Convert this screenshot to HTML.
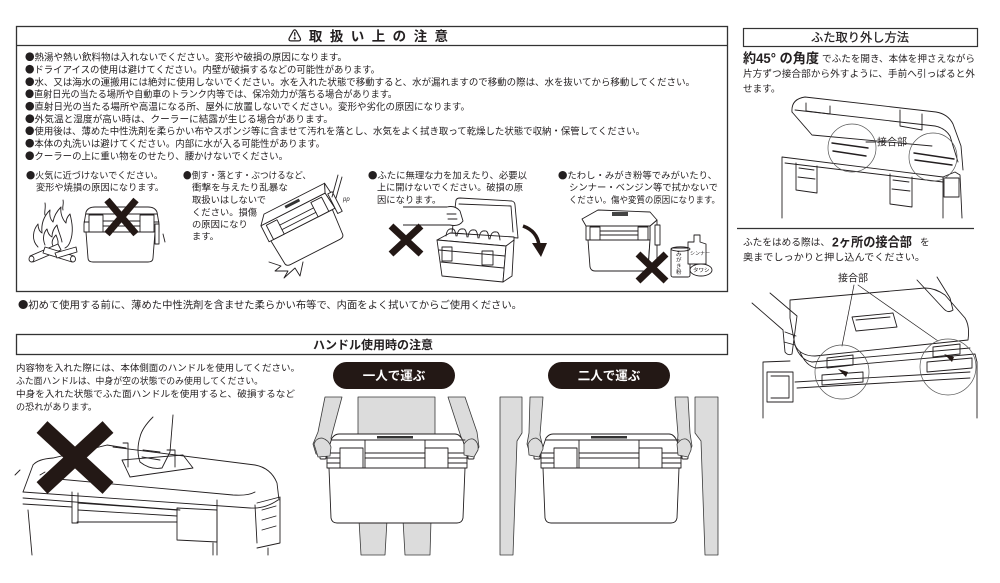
<!DOCTYPE html>
<html><head><meta charset="utf-8">
<style>
html,body{margin:0;padding:0;background:#fff;}
svg{display:block;}
text{font-family:"Liberation Sans","Noto Sans CJK JP",sans-serif;fill:#231f20;}
.b{font-family:"Noto Sans CJK JP",sans-serif;}
.t{font-size:9.6px;}
.s{font-size:9.3px;}
.ln{fill:none;stroke:#231f20;stroke-width:0.9;stroke-linejoin:round;stroke-linecap:round;}
.w{fill:#fff;stroke:#231f20;stroke-width:0.9;stroke-linejoin:round;}
.g{fill:#dcdcdc;stroke:#3a3a3a;stroke-width:0.8;stroke-linejoin:round;}
.x{stroke:#231815;stroke-linecap:butt;fill:none;}
</style></head><body>
<svg width="1000" height="583" viewBox="0 0 1000 583" xmlns="http://www.w3.org/2000/svg">
<rect width="1000" height="583" fill="#fff"/>

<!-- ===== MAIN CAUTION BOX ===== -->
<rect x="16.5" y="26.5" width="711" height="265" fill="none" stroke="#333" stroke-width="1.3"/>
<line x1="16" y1="45.5" x2="728" y2="45.5" stroke="#333" stroke-width="1.3"/>
<text x="288" y="41" font-size="13.5" font-weight="bold" textLength="160" lengthAdjust="spacing">⚠取扱い上の注意</text>

<text class="t" x="25" y="60.6" textLength="322" lengthAdjust="spacingAndGlyphs"><tspan class="b">●</tspan>熱湯や熱い飲料物は入れないでください。変形や破損の原因になります。</text>
<text class="t" x="25" y="73" textLength="355" lengthAdjust="spacingAndGlyphs"><tspan class="b">●</tspan>ドライアイスの使用は避けてください。内壁が破損するなどの可能性があります。</text>
<text class="t" x="25" y="85.3" textLength="670" lengthAdjust="spacingAndGlyphs"><tspan class="b">●</tspan>水、又は海水の運搬用には絶対に使用しないでください。水を入れた状態で移動すると、水が漏れますので移動の際は、水を抜いてから移動してください。</text>
<text class="t" x="25" y="97.7" textLength="372" lengthAdjust="spacingAndGlyphs"><tspan class="b">●</tspan>直射日光の当たる場所や自動車のトランク内等では、保冷効力が落ちる場合があります。</text>
<text class="t" x="25" y="110" textLength="445" lengthAdjust="spacingAndGlyphs"><tspan class="b">●</tspan>直射日光の当たる場所や高温になる所、屋外に放置しないでください。変形や劣化の原因になります。</text>
<text class="t" x="25" y="122.4" textLength="308" lengthAdjust="spacingAndGlyphs"><tspan class="b">●</tspan>外気温と湿度が高い時は、クーラーに結露が生じる場合があります。</text>
<text class="t" x="25" y="134.7" textLength="620" lengthAdjust="spacingAndGlyphs"><tspan class="b">●</tspan>使用後は、薄めた中性洗剤を柔らかい布やスポンジ等に含ませて汚れを落とし、水気をよく拭き取って乾燥した状態で収納・保管してください。</text>
<text class="t" x="25" y="147.1" textLength="300" lengthAdjust="spacingAndGlyphs"><tspan class="b">●</tspan>本体の丸洗いは避けてください。内部に水が入る可能性があります。</text>
<text class="t" x="25" y="159.4" textLength="263" lengthAdjust="spacingAndGlyphs"><tspan class="b">●</tspan>クーラーの上に重い物をのせたり、腰かけないでください。</text>

<!-- illustration captions -->
<text class="s" x="26" y="178.5" textLength="137" lengthAdjust="spacingAndGlyphs"><tspan class="b">●</tspan>火気に近づけないでください。</text>
<text class="s" x="36" y="190.5" textLength="128" lengthAdjust="spacingAndGlyphs">変形や焼損の原因になります。</text>

<text class="s" x="183" y="178.5" textLength="128" lengthAdjust="spacingAndGlyphs"><tspan class="b">●</tspan>倒す・落とす・ぶつけるなど、</text>
<text class="s" x="192" y="190.5" textLength="96" lengthAdjust="spacingAndGlyphs">衝撃を与えたり乱暴な</text>
<text class="s" x="192" y="203">取扱いはしないで</text>
<text class="s" x="192" y="215.5">ください。損傷</text>
<text class="s" x="192" y="227.5">の原因になり</text>
<text class="s" x="192" y="239.5">ます。</text>

<text class="s" x="368" y="178.5" textLength="159" lengthAdjust="spacingAndGlyphs"><tspan class="b">●</tspan>ふたに無理な力を加えたり、必要以</text>
<text class="s" x="377" y="190.5" textLength="146" lengthAdjust="spacingAndGlyphs">上に開けないでください。破損の原</text>
<text class="s" x="377" y="203">因になります。</text>

<text class="s" x="558" y="178.5" textLength="159" lengthAdjust="spacingAndGlyphs"><tspan class="b">●</tspan>たわし・みがき粉等でみがいたり、</text>
<text class="s" x="569" y="190.5" textLength="149" lengthAdjust="spacingAndGlyphs">シンナー・ベンジン等で拭かないで</text>
<text class="s" x="569" y="203" textLength="151" lengthAdjust="spacingAndGlyphs">ください。傷や変質の原因になります。</text>

<!-- Illustration 1: fire + cooler -->
<g class="ln">
<path d="M38,247 C31,240 33,230 38,224 C38,229 40,232 42,233 C41,224 44,216 50,210 C49,216 51,220 53,222 C54,216 57,211 61,207 C60,214 63,220 66,223 C66,219 68,216 70,214 C72,222 74,232 70,242 C69,245 67,247 65,248"/>
<path d="M45,245 C42,238 44,232 47,229 C48,234 50,236 52,237 C52,231 55,227 57,225 C58,231 61,236 62,242"/>
<path d="M53,246 C51,242 53,238 56,235 C58,240 59,243 57,246"/>
<path d="M45,203 C46,208 44,212 45,215 M63,200 C64,204 62,207 63,210"/>
</g>
<g class="w">
<path d="M30,256 L58,244 L61,250 L33,262 Z"/>
<path d="M45,247 L74,256 L72,262 L43,253 Z"/>
<path d="M55,253 L76,247 L77,252 L57,258 Z"/>
<ellipse cx="31.5" cy="259" rx="2.5" ry="3"/>
<ellipse cx="73" cy="259" rx="2.5" ry="3"/>
</g>
<g class="w">
<path d="M86,232 L88,258 Q88,262 93,262 L148,262 Q153,262 153,258 L155,232 Z"/>
<path d="M84,224 L86,212 Q88,207 95,207 L148,207 Q155,207 157,212 L159,224 L159,232 L84,232 Z"/>
<rect x="89" y="215" width="14" height="17"/>
<rect x="140" y="215" width="14" height="17"/>
<rect x="155" y="224" width="4" height="20"/>
</g>
<path class="ln" d="M86,214 L157,214 M103,221 L140,221 M103,226 L140,226 M84,222 L89,222 M154,222 L159,222 M163,234 L165,242"/>
<path class="x" d="M107,200 L136,234 M136,200 L107,234" stroke-width="7"/>

<!-- Illustration 2: tilted cooler -->
<g transform="translate(303,229) rotate(-27)">
<g class="w">
<path d="M-34,-4 L-32,22 Q-32,26 -27,26 L28,26 Q33,26 33,22 L35,-4 Z"/>
<path d="M-36,-22 L36,-22 L38,-4 L-36,-4 Z"/>
<path d="M-36,-22 L-28,-31 L40,-31 L36,-22 Z"/>
<rect x="-31" y="-20" width="12" height="16"/>
<rect x="19" y="-20" width="12" height="16"/>
<path d="M36,-22 L40,-31 L42,-13 L38,-4 Z"/>
<rect x="38" y="-20" width="5" height="22"/>
</g>
<rect x="-6" y="-29" width="16" height="3" fill="#333"/>
<path class="ln" d="M-19,-14 L19,-14 M-19,-9 L19,-9"/>
</g>
<path class="ln" d="M269,262 L281,266 L275,271 L288,271 L284,278 L295,268 L300,276 L303,262"/>
<path class="ln" d="M332,197 L338,175 M336,198 L342,177"/>
<text x="343" y="201" font-size="6" font-style="italic">pp</text>

<!-- Illustration 3: forcing lid -->
<g class="w">
<path d="M452,233 L456,200 Q457,198 460,198 L512,201 Q515,202 515,205 L518,238 Z"/>
<path d="M437,240 L450,233 L514,237 L514,241 L506,246 Z"/>
<path d="M437,240 L506,246 L503,282 L442,276 Z"/>
<path d="M506,246 L514,240 L512,276 L503,282 Z"/>
<rect x="442" y="247" width="10" height="14"/>
<rect x="482" y="251" width="11" height="14"/>
</g>
<path class="ln" d="M459,204 L511,206 L513,232 M446,236 Q447,228 452,229 Q455,228 456,236 M457,236 Q458,228 463,229 Q466,228 467,237 M468,237 Q469,229 474,230 Q477,229 478,238 M479,238 Q480,230 485,231 Q488,230 489,239 M490,239 Q491,231 496,232 Q499,231 500,240 M439,250 L505,256 M441,262 L504,268"/>
<path class="w" d="M403,207 L447,207 Q455,205 460,211 L463,221 Q459,227 450,225 L403,225"/>
<path class="ln" d="M447,214 L456,214 M448,219 L457,219"/>
<path d="M523,226 Q537,231 539,245" fill="none" stroke="#231815" stroke-width="3.5"/>
<polygon points="532,243 547,243 541,257" fill="#231815"/>
<path class="x" d="M391,226 L421,254 M421,226 L391,254" stroke-width="7"/>

<!-- Illustration 4: scrubbing -->
<g class="w">
<path d="M588,240 L590,267 Q591,271 595,271 L644,271 Q648,271 648,267 L650,240 Z"/>
<path d="M650,226 L657,220 L657,262 L648,271 L650,240 Z"/>
<path d="M582,219 L598,210 L650,212 L657,220 L650,226 L586,226 Z"/>
<path d="M586,226 L650,226 L650,240 L586,240 Z"/>
<rect x="590" y="227" width="10" height="13"/>
<rect x="638" y="227" width="10" height="13"/>
<rect x="655" y="225" width="5" height="20"/>
</g>
<rect x="612" y="212" width="16" height="4" fill="#444"/>
<path class="ln" d="M600,231 L638,231 M600,235 L638,235"/>
<g class="w">
<rect x="671" y="248" width="19" height="29" rx="2"/>
<path d="M688,242 L694,242 L694,235 L700,235 L700,242 L706,244 L706,264 L688,264 Z"/>
<ellipse cx="701" cy="270" rx="11" ry="6"/>
</g>
<ellipse class="ln" cx="680.5" cy="249" rx="9.5" ry="2.2"/>
<text x="676" y="256" font-size="5.5">み</text>
<text x="676" y="262" font-size="5.5">が</text>
<text x="676" y="268" font-size="5.5">き</text>
<text x="676" y="274" font-size="5.5">粉</text>
<text x="690" y="255" font-size="5">シンナー</text>
<text x="693" y="272" font-size="5.5">タワシ</text>
<path class="x" d="M638,254 L666,281 M666,254 L638,281" stroke-width="7"/>

<text x="18" y="308.5" font-size="10" textLength="504" lengthAdjust="spacingAndGlyphs"><tspan class="b">●</tspan>初めて使用する前に、薄めた中性洗剤を含ませた柔らかい布等で、内面をよく拭いてからご使用ください。</text>

<!-- ===== RIGHT PANEL ===== -->
<rect x="743.5" y="28.5" width="234" height="18" fill="none" stroke="#333" stroke-width="1.2"/>
<text x="811" y="41.5" font-size="12" textLength="98" lengthAdjust="spacingAndGlyphs" stroke="#231f20" stroke-width="0.25">ふた取り外し方法</text>
<text x="743" y="63" font-size="13.5" font-weight="bold" textLength="76" lengthAdjust="spacingAndGlyphs">約45° の角度</text>
<text class="t" x="822" y="62" textLength="153" lengthAdjust="spacingAndGlyphs">でふたを開き、本体を押さえながら</text>
<text class="t" x="743" y="77" textLength="232" lengthAdjust="spacingAndGlyphs">片方ずつ接合部から外すように、手前へ引っぱると外</text>
<text class="t" x="743" y="92">せます。</text>

<!-- right top illustration -->
<g class="ln">
<path d="M792,112 Q791,99 805,97 L936,112 Q948,114 953,124 L961,146 L963,170"/>
<path d="M795,110 L935,126 Q945,128 950,136 L958,162"/>
<path d="M792,112 L812,135 L932,146"/>
<path d="M806,103 L806,111 L830,114 L830,106"/>
<path d="M900,110 L900,126 L922,130 L922,114"/>
<path d="M782,218 L782,157 L943,177 L943,218"/>
<path d="M785,163 L943,182"/>
<path d="M943,177 L955,172 L960,175 L962,218"/>
<rect x="944" y="178" width="15" height="19"/>
<path d="M796,163 L796,190 L817,193 L817,166 M799,168 L814,170 M798,177 L815,179"/>
<path d="M890,174 L890,204 L912,207 L912,177 M893,180 L909,182 M892,189 L910,191"/>
<path d="M832,143 L868,148 M833,151 L866,156 M914,153 L954,159 M915,160 L952,165" stroke-width="1.4"/>
<path d="M866,142 L876,142"/>
</g>
<circle cx="852" cy="148" r="24" fill="none" stroke="#555" stroke-width="0.7"/>
<circle cx="933" cy="157" r="24" fill="none" stroke="#555" stroke-width="0.7"/>
<text x="877" y="145.5" font-size="10" fill="#231f20">接合部</text>

<line x1="737" y1="228.5" x2="974" y2="228.5" stroke="#333" stroke-width="1.2"/>
<text class="t" x="743" y="245.5" textLength="87" lengthAdjust="spacingAndGlyphs">ふたをはめる際は、</text>
<text x="832" y="246.5" font-size="13" font-weight="bold" textLength="80" lengthAdjust="spacingAndGlyphs">2ヶ所の接合部</text>
<text class="t" x="920" y="245.5">を</text>
<text class="t" x="743" y="260.5" textLength="182" lengthAdjust="spacingAndGlyphs">奥までしっかりと押し込んでください。</text>
<text x="838" y="281.5" font-size="10" textLength="30" lengthAdjust="spacingAndGlyphs">接合部</text>

<!-- right bottom illustration -->
<g class="ln">
<path d="M854,285 L842,346 M858,285 L938,341" stroke-width="0.7"/>
<path d="M763,418 L763,362 L790,361 M977,362 L977,418"/>
<rect x="767" y="372" width="26" height="30"/>
<path d="M771,376 L789,376 L789,398 L771,398"/>
<path d="M790,300 L925,288 Q935,288 945,295 L965,318 Q970,326 968,340 L815,356 Q800,356 795,345 L790,318 Z"/>
<path d="M795,345 Q800,360 812,362 L970,348 M800,352 Q806,366 816,368 L975,354 L977,362"/>
<path d="M852,317 L893,313 L897,327 L856,331 Z M856,320 L890,317"/>
<path d="M795,382 L970,372 M797,388 L970,378"/>
<path d="M752,303 L783,330 L785,352 Q788,356 792,354 L797,316 L770,293"/>
<path d="M785,332 L796,336 M784,342 L795,345"/>
<path d="M917,280 L943,308 Q948,314 953,310 L950,298 L937,277"/>
<path d="M827,358 L853,355 L853,365 L827,368 Z M822,375 L863,372 L863,382 L822,385 Z"/>
<path d="M933,347 L960,344 L960,354 L933,357 Z M927,362 L972,358 L972,368 L927,372 Z"/>
</g>
<polygon points="838,369 848,372 846,377" fill="#231815"/>
<polygon points="944,354 954,357 952,362" fill="#231815"/>
<circle cx="842" cy="372" r="27" fill="none" stroke="#555" stroke-width="0.7"/>
<circle cx="948" cy="367" r="28" fill="none" stroke="#555" stroke-width="0.7"/>

<!-- ===== HANDLE SECTION ===== -->
<rect x="16.5" y="334.5" width="711" height="20" fill="none" stroke="#333" stroke-width="1.3"/>
<text x="313" y="349" font-size="12" font-weight="bold" textLength="120" lengthAdjust="spacingAndGlyphs">ハンドル使用時の注意</text>

<text font-size="9.2" x="16" y="371" textLength="284" lengthAdjust="spacingAndGlyphs">内容物を入れた際には、本体側面のハンドルを使用してください。</text>
<text font-size="9.2" x="16" y="384" textLength="247" lengthAdjust="spacingAndGlyphs">ふた面ハンドルは、中身が空の状態でのみ使用してください。</text>
<text font-size="9.2" x="16" y="397" textLength="279" lengthAdjust="spacingAndGlyphs">中身を入れた状態でふた面ハンドルを使用すると、破損するなど</text>
<text font-size="9.2" x="16" y="410" textLength="81" lengthAdjust="spacingAndGlyphs">の恐れがあります。</text>

<!-- pills -->
<rect x="333" y="362" width="122" height="27" rx="13.5" fill="#231815"/>
<text x="394" y="380" font-size="12.5" font-weight="bold" text-anchor="middle" style="fill:#fff">一人で運ぶ</text>
<rect x="548" y="362" width="122" height="27" rx="13.5" fill="#231815"/>
<text x="609" y="380" font-size="12.5" font-weight="bold" text-anchor="middle" style="fill:#fff">二人で運ぶ</text>

<!-- bottom-left: lid handle misuse -->
<g class="ln">
<path d="M33,465 Q38,459 53,458 L107,445 L126,448"/>
<path d="M113,447 L255,465 Q271,468 277,483 L279,500"/>
<path d="M23,492 L33,465"/>
<path d="M47,478 L233,495 Q248,496 255,492"/>
<path d="M23,492 L250,508 Q265,509 278,500"/>
<path d="M23,498 L180,510 M23,504 L72,507"/>
<path d="M28,510 L32,555"/>
<path d="M72,492 L72,523 L78,523 L78,493"/>
<path d="M78,503 L177,510 M78,510 L177,516 M77,522 L177,522"/>
<path d="M177,508 L217,510 L217,542 L177,540 Z"/>
<path d="M217,500 L217,555 M255,505 L257,543 M257,503 L280,497 L280,543 L257,548"/>
<path d="M262,510 L276,506 M262,520 L276,516 M262,530 L276,526"/>
<path d="M213,543 L213,555 M268,548 L268,555"/>
<path d="M122,460 L183,455 L193,468 L130,477 Z"/>
<path d="M123,443 L128,443 L128,467 M167,450 L175,450 L175,467"/>
<path d="M153,417 Q142,428 140,437 Q136,450 140,462 Q150,470 162,468 L170,452 L173,415"/>
<path d="M143,450 L160,452 M142,457 L160,460"/>
<path d="M15,475 L20,470 M40,475 L45,472"/>
</g>
<path class="x" d="M42,427 L108,488 M108,427 L42,488" stroke-width="16"/>

<!-- 一人で運ぶ figure -->
<polygon class="g" points="358,397 435,397 435,445 358,445"/>
<polygon class="g" points="359,520 387,520 385,555 361,555"/>
<polygon class="g" points="403,520 431,520 430,555 405,555"/>
<polygon class="g" points="325,397 342,397 331,438 333,452 327,457 316,454 313,444 318,432"/>
<polygon class="g" points="448,397 465,397 477,432 479,447 473,457 464,453 462,440"/>

<!-- 二人で運ぶ figures -->
<polygon class="g" points="500,397 522,397 522,433 517,441 513,555 500,555"/>
<polygon class="g" points="530,397 543,397 540,435 543,448 538,457 530,454 527,444 529,433"/>
<polygon class="g" points="675,397 688,397 690,433 692,446 688,456 680,456 677,446 678,435"/>
<polygon class="g" points="695,397 718,397 718,555 705,555 701,441 695,433"/>

<!-- coolers (carry) -->
<g transform="translate(327,433)">
<path class="w" d="M2,35 L4,85 Q5,90 10,90 L130,90 Q135,90 136,85 L138,35 Z"/>
<path class="w" d="M0,20 L5,5 Q8,1 12,1 L128,1 Q133,1 136,8 L140,20 L140,35 L0,35 Z"/>
<path class="ln" d="M5,7 L138,7"/>
<rect x="50" y="3" width="36" height="2.5" fill="#333"/>
<rect class="w" x="38" y="7" width="60" height="28"/>
<rect class="w" x="13" y="15" width="23" height="20"/>
<rect class="w" x="98" y="15" width="23" height="20"/>
<path class="ln" d="M0,20 L13,20 M0,25 L13,25 M0,30 L13,30 M121,20 L140,20 M121,25 L140,25 M121,30 L140,30 M38,20 L98,20 M38,25 L98,25"/>
<rect class="w" x="-7" y="12" width="6" height="14" rx="1"/>
<rect class="w" x="141" y="12" width="6" height="14" rx="1"/>
</g>
<g transform="translate(541,433)">
<path class="w" d="M2,35 L4,85 Q5,90 10,90 L130,90 Q135,90 136,85 L138,35 Z"/>
<path class="w" d="M0,20 L5,5 Q8,1 12,1 L128,1 Q133,1 136,8 L140,20 L140,35 L0,35 Z"/>
<path class="ln" d="M5,7 L138,7"/>
<rect x="50" y="3" width="36" height="2.5" fill="#333"/>
<rect class="w" x="38" y="7" width="60" height="28"/>
<rect class="w" x="13" y="15" width="23" height="20"/>
<rect class="w" x="98" y="15" width="23" height="20"/>
<path class="ln" d="M0,20 L13,20 M0,25 L13,25 M0,30 L13,30 M121,20 L140,20 M121,25 L140,25 M121,30 L140,30 M38,20 L98,20 M38,25 L98,25"/>
<rect class="w" x="-7" y="12" width="6" height="14" rx="1"/>
<rect class="w" x="141" y="12" width="6" height="14" rx="1"/>
</g>
<!-- hands over handles -->
<path class="g" d="M314,444 Q316,438 322,438 Q329,440 331,447 L330,456 L318,457 Z"/>
<path class="g" d="M464,444 Q468,438 473,439 Q479,442 478,450 L474,457 L464,455 Z"/>
<path class="g" d="M528,444 Q531,438 536,438 Q543,441 543,449 L539,457 L529,455 Z"/>
<path class="g" d="M677,444 Q681,438 686,439 Q692,442 691,450 L688,457 L678,455 Z"/>
</svg>
</body></html>
